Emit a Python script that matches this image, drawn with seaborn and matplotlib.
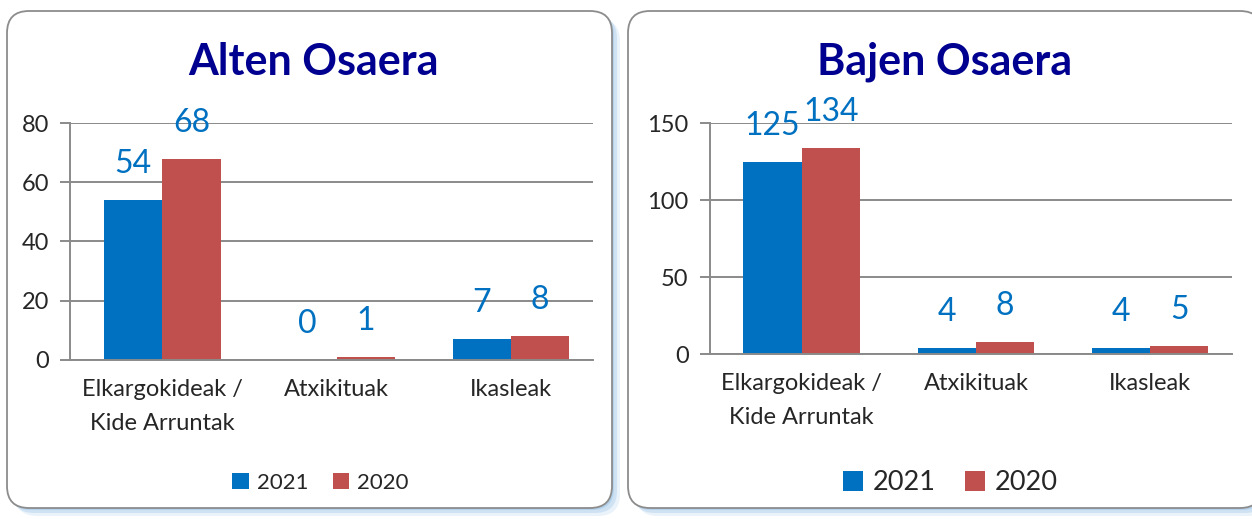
import matplotlib
matplotlib.use("Agg")
import matplotlib.pyplot as plt
import seaborn as sns
import pandas as pd
from matplotlib.patches import FancyBboxPatch
from matplotlib.transforms import IdentityTransform

categories = ["Elkargokideak /\nKide Arruntak", "Atxikituak", "Ikasleak"]
years = ["2021", "2020"]
altak_2021 = [54, 0, 7]
altak_2020 = [68, 1, 8]
bajak_2021 = [125, 4, 4]
bajak_2020 = [134, 8, 5]
titles = ["Alten Osaera", "Bajen Osaera"]

colors = {"2021": "#0070C0", "2020": "#C0504D"}
grey = "#8a8a8a"

sns.set_style("white")
plt.rcParams['font.family'] = ['Lato', 'DejaVu Sans']


def long_df(v2021, v2020):
    rows = []
    for c, a, b in zip(categories, v2021, v2020):
        rows.append({"cat": c, "year": "2021", "value": a})
        rows.append({"cat": c, "year": "2020", "value": b})
    return pd.DataFrame(rows)


fig = plt.figure(figsize=(12.52, 5.19), dpi=100)

# rounded panel frames with a soft blue shadow (display pixels)
for x0, x1 in [(7, 612), (628, 1262)]:
    for k, a in [(8, 0.2), (5, 0.35), (2, 0.5)]:
        sh = FancyBboxPatch((x0 + k, 11 - k), x1 - x0, 497, boxstyle="round,pad=0,rounding_size=22",
                            transform=IdentityTransform(), facecolor="#9dc3e6", edgecolor="none",
                            alpha=a, zorder=-6)
        fig.patches.append(sh)
    box = FancyBboxPatch((x0, 11), x1 - x0, 497, boxstyle="round,pad=0,rounding_size=22",
                         transform=IdentityTransform(), facecolor="white", edgecolor="#8c8c8c",
                         linewidth=1.3, zorder=-5)
    fig.patches.append(box)

panels = [
    dict(data=long_df(altak_2021, altak_2020), rect=[0.0559, 0.3064, 0.4177, 0.4566],
         ylim=80, yticks=[0, 20, 40, 60, 80], title_x=0.25, leg_x=0.256, leg_fs=16),
    dict(data=long_df(bajak_2021, bajak_2020), rect=[0.5667, 0.3179, 0.4173, 0.4451],
         ylim=150, yticks=[0, 50, 100, 150], title_x=0.7548, leg_x=0.759, leg_fs=19.5),
]

for p, title in zip(panels, titles):
    ax = fig.add_axes(p["rect"])
    ax.set_facecolor("none")
    sns.barplot(data=p["data"], x="cat", y="value", hue="year", hue_order=years,
                palette=colors, width=0.67, linewidth=0, saturation=1, ax=ax)
    for cont in ax.containers:
        ax.bar_label(cont, padding=15, fontsize=23, color="#0070C0")
    ax.set_xlim(-0.53, 2.47)
    ax.set_ylim(0, p["ylim"])
    ax.set_yticks(p["yticks"])
    ax.set_xlabel("")
    ax.set_ylabel("")
    ax.grid(axis="y", color=grey, linewidth=1.4)
    ax.set_axisbelow(True)
    for s in ["top", "right"]:
        ax.spines[s].set_visible(False)
    for s in ["left", "bottom"]:
        ax.spines[s].set_color(grey)
        ax.spines[s].set_linewidth(1.4)
    ax.set_xticks([-0.53, 0.47, 1.47, 2.47], minor=True)
    ax.tick_params(axis="x", which="major", length=0, pad=14, labelsize=17)
    ax.tick_params(axis="x", which="minor", length=7, width=1.4, color=grey, direction="out")
    ax.tick_params(axis="y", length=7, width=1.4, color=grey, pad=8, labelsize=17, left=True)
    for lab in ax.get_xticklabels():
        lab.set_linespacing(1.75)
        lab.set_verticalalignment("top")
    handles, labels = ax.get_legend_handles_labels()
    ax.legend(handles, labels, loc="center", bbox_to_anchor=(p["leg_x"], 1 - 483 / 519),
              bbox_transform=fig.transFigure, ncol=2, frameon=False, fontsize=p["leg_fs"],
              handlelength=0.75, handleheight=0.75, handletextpad=0.35, columnspacing=1.1)
    fig.text(p["title_x"], 1 - 62 / 519, title, ha="center", va="center",
             fontsize=31, fontweight="bold", color="#000090")

fig.savefig("out.png", dpi=100)
